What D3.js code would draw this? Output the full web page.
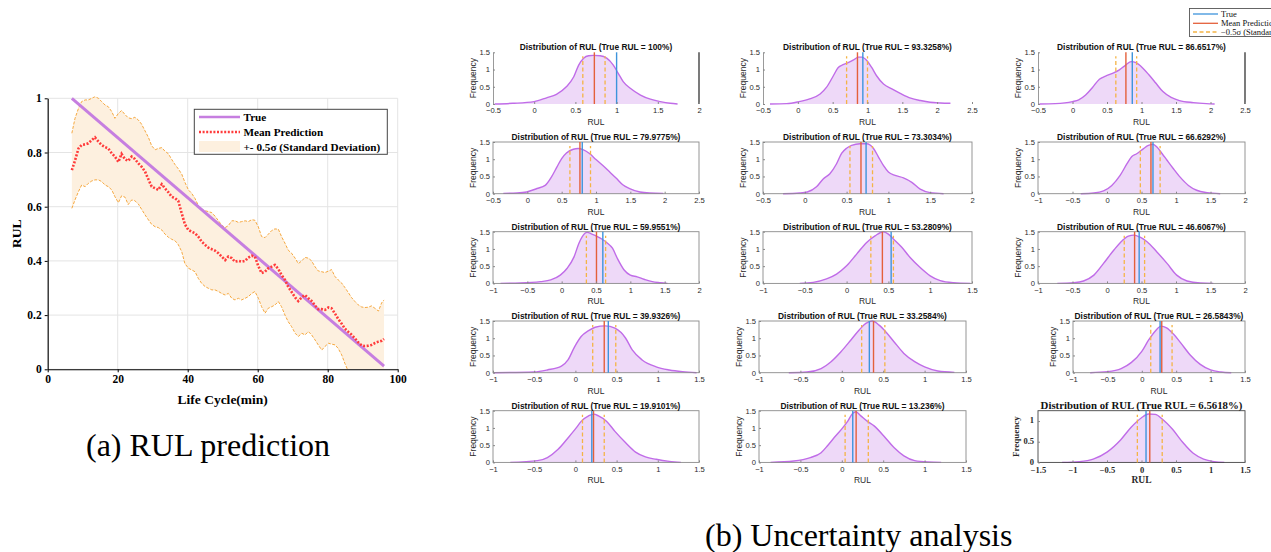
<!DOCTYPE html>
<html>
<head>
<meta charset="utf-8">
<script src="https://cdn.jsdelivr.net/npm/d3@7"></script>
<style>
  html, body { margin: 0; padding: 0; background: #fff; }
  svg { display: block; }
</style>
</head>
<body>
<svg id="fig" width="1271" height="552"></svg>
<script>
// ---------- (a) RUL prediction: data ----------
const lifeCycle = [6.9, 7.8, 8.8, 9.7, 10.7, 11.6, 12.6, 13.5, 14.5, 15.4,
  16.4, 17.3, 18.3, 19.2, 20.2, 21.1, 22.1, 23.0, 24.0, 24.9,
  25.9, 26.8, 27.8, 28.8, 29.7, 30.7, 31.6, 32.6, 33.5, 34.5,
  35.4, 36.4, 37.3, 38.3, 39.2, 40.2, 41.1, 42.1, 43.0, 44.0,
  45.0, 45.9, 46.9, 47.8, 48.8, 49.7, 50.7, 51.6, 52.6, 53.5,
  54.5, 55.4, 56.4, 57.3, 58.3, 59.2, 60.2, 61.1, 62.1, 63.0,
  64.0, 64.9, 65.9, 66.8, 67.8, 68.7, 69.7, 70.7, 71.6, 72.6,
  73.5, 74.5, 75.4, 76.4, 77.3, 78.3, 79.2, 80.2, 81.1, 82.1,
  83.0, 84.0, 84.9, 85.9, 86.8, 87.8, 88.7, 89.7, 90.6, 91.6,
  92.5, 93.5, 94.5, 95.4, 96.1];

const meanPrediction = [0.735, 0.77, 0.815, 0.828, 0.83, 0.834, 0.846, 0.856, 0.84, 0.828,
  0.82, 0.815, 0.797, 0.785, 0.765, 0.795, 0.775, 0.769, 0.785, 0.776,
  0.76, 0.748, 0.73, 0.70, 0.674, 0.668, 0.662, 0.683, 0.668, 0.653,
  0.637, 0.631, 0.622, 0.575, 0.535, 0.514, 0.508, 0.502, 0.49, 0.471,
  0.459, 0.449, 0.443, 0.438, 0.428, 0.416, 0.403, 0.416, 0.41, 0.397,
  0.4, 0.397, 0.4, 0.412, 0.419, 0.416, 0.38, 0.355, 0.36, 0.373,
  0.379, 0.385, 0.37, 0.348, 0.33, 0.305, 0.285, 0.265, 0.252, 0.266,
  0.274, 0.262, 0.252, 0.235, 0.222, 0.222, 0.219, 0.228, 0.225, 0.205,
  0.186, 0.168, 0.15, 0.138, 0.128, 0.114, 0.1, 0.088, 0.086, 0.087,
  0.09, 0.097, 0.102, 0.105, 0.112];

const upperBand = [0.871, 0.926, 0.963, 0.988, 0.994, 0.994, 1.0, 1.006, 1.0, 0.988,
  0.975, 0.969, 0.951, 0.926, 0.944, 0.955, 0.94, 0.928, 0.925, 0.93,
  0.92, 0.905, 0.88, 0.855, 0.825, 0.81, 0.815, 0.818, 0.805, 0.795,
  0.775, 0.755, 0.74, 0.72, 0.69, 0.662, 0.65, 0.63, 0.605, 0.59,
  0.585, 0.582, 0.578, 0.565, 0.548, 0.532, 0.523, 0.53, 0.548, 0.548,
  0.542, 0.545, 0.548, 0.545, 0.552, 0.55, 0.525, 0.49, 0.486, 0.498,
  0.512, 0.518, 0.517, 0.49, 0.465, 0.44, 0.428, 0.41, 0.39, 0.4,
  0.413, 0.41, 0.4, 0.378, 0.363, 0.36, 0.357, 0.362, 0.368, 0.342,
  0.33, 0.318, 0.302, 0.283, 0.265, 0.25, 0.238, 0.23, 0.228, 0.229,
  0.234, 0.225, 0.215, 0.245, 0.256];

const lowerBand = [0.594, 0.625, 0.656, 0.68, 0.674, 0.686, 0.695, 0.699, 0.699, 0.693,
  0.68, 0.674, 0.662, 0.637, 0.615, 0.64, 0.635, 0.608, 0.625, 0.622,
  0.61, 0.591, 0.57, 0.551, 0.535, 0.526, 0.523, 0.514, 0.499, 0.487,
  0.48, 0.474, 0.46, 0.434, 0.39, 0.373, 0.367, 0.36, 0.336, 0.317,
  0.305, 0.299, 0.293, 0.293, 0.287, 0.28, 0.274, 0.28, 0.262, 0.256,
  0.262, 0.256, 0.262, 0.268, 0.28, 0.287, 0.262, 0.231, 0.207, 0.225,
  0.231, 0.237, 0.25, 0.231, 0.2, 0.176, 0.157, 0.133, 0.121, 0.133,
  0.127, 0.139, 0.127, 0.108, 0.09, 0.071, 0.084, 0.096, 0.093, 0.09,
  0.077, 0.053, 0.022, -0.008, -0.025, -0.04, -0.05, -0.06, -0.07, -0.075,
  -0.08, -0.085, -0.09, -0.09, -0.1];

const trueCycle = [6.9, 96.1];
const trueRUL = [1.0, 0.012];

const cycleTicks = [0, 20, 40, 60, 80, 100];
const rulTicks = [0, 0.2, 0.4, 0.6, 0.8, 1];
const legendLabelsA = ["True", "Mean Prediction", "+- 0.5\u03c3 (Standard Deviation)"];

// ---------- (b) Uncertainty analysis: data ----------
const trueRULPercent = [100, 93.3258, 86.6517, 79.9775, 73.3034, 66.6292, 59.9551, 53.2809,
  46.6067, 39.9326, 33.2584, 26.5843, 19.9101, 13.236, 6.5618];
const meanRUL = [0.73, 0.856, 0.774, 0.766, 0.672, 0.637, 0.507, 0.428, 0.40, 0.35, 0.383, 0.29, 0.22, 0.173, 0.12];
const sigmaLow = [0.59, 0.70, 0.628, 0.62, 0.54, 0.483, 0.36, 0.29, 0.25, 0.21, 0.24, 0.13, 0.086, 0.04, -0.06];
const sigmaHigh = [0.86, 1.0, 0.93, 0.92, 0.81, 0.77, 0.64, 0.56, 0.545, 0.49, 0.52, 0.44, 0.35, 0.32, 0.30];
const rulDomains = [[-0.5, 2], [-0.5, 2.5], [-0.5, 2.5],
  [-0.5, 2.5], [-0.5, 2], [-1, 2],
  [-1, 2], [-1, 1.5], [-1, 2],
  [-1, 1.5], [-1, 1.5], [-1, 1.5],
  [-1, 1.5], [-1, 1.5], [-1.5, 1.5]];
const freqMax = [1.5, 1.5, 1.5, 1.5, 1.5, 1.5, 1.5, 1.5, 1.5, 1.5, 1.5, 1.5, 1.5, 1.5, 1.25];
const freqTicks = [0, 0.5, 1, 1.5];
const rulTickStep = 0.5;

const densityRUL = [
  [-0.48, -0.26, 0, 0.15, 0.27, 0.39, 0.48, 0.54, 0.6, 0.66, 0.72, 0.8, 0.88, 0.96, 1.02, 1.08, 1.17, 1.29, 1.41, 1.53, 1.65, 1.74],
  [-0.4, -0.16, 0, 0.17, 0.32, 0.41, 0.51, 0.58, 0.65, 0.73, 0.8, 0.87, 0.92, 0.99, 1.06, 1.13, 1.23, 1.35, 1.47, 1.62, 1.76, 1.9, 2.05, 2.19],
  [-0.48, -0.25, 0, 0.09, 0.19, 0.29, 0.39, 0.48, 0.58, 0.68, 0.77, 0.85, 0.92, 1.02, 1.11, 1.21, 1.31, 1.43, 1.55, 1.75, 1.94, 2.06],
  [-0.35, -0.15, -0.01, 0.14, 0.26, 0.35, 0.43, 0.5, 0.57, 0.67, 0.74, 0.81, 0.91, 1.0, 1.1, 1.2, 1.3, 1.39, 1.49, 1.64, 1.78, 1.98],
  [-0.26, -0.06, 0.03, 0.14, 0.22, 0.3, 0.38, 0.44, 0.5, 0.56, 0.66, 0.74, 0.82, 0.88, 0.94, 1.0, 1.08, 1.18, 1.28, 1.38, 1.5, 1.66],
  [-0.38, -0.19, -0.05, 0.07, 0.19, 0.29, 0.36, 0.43, 0.53, 0.6, 0.67, 0.72, 0.8, 0.87, 0.96, 1.06, 1.18, 1.3, 1.45, 1.64],
  [-0.89, -0.6, -0.31, -0.16, -0.02, 0.08, 0.18, 0.25, 0.3, 0.37, 0.44, 0.52, 0.59, 0.66, 0.74, 0.81, 0.91, 1.0, 1.1, 1.2, 1.32, 1.44, 1.54],
  [-0.56, -0.4, -0.24, -0.12, 0, 0.12, 0.24, 0.34, 0.44, 0.5, 0.56, 0.66, 0.76, 0.88, 1.0, 1.12, 1.28, 1.48],
  [-0.72, -0.48, -0.34, -0.19, -0.05, 0.1, 0.22, 0.31, 0.39, 0.48, 0.58, 0.72, 0.87, 1.01, 1.16, 1.35, 1.54],
  [-0.99, -0.5, -0.34, -0.17, -0.09, -0.01, 0.07, 0.16, 0.24, 0.36, 0.48, 0.61, 0.69, 0.81, 0.98, 1.14, 1.3, 1.47],
  [-0.64, -0.42, -0.25, -0.13, -0.01, 0.11, 0.21, 0.29, 0.37, 0.45, 0.53, 0.63, 0.75, 0.88, 1.0, 1.16, 1.36],
  [-0.75, -0.5, -0.3, -0.15, 0, 0.1, 0.2, 0.28, 0.36, 0.46, 0.56, 0.7, 0.85, 1.0, 1.15, 1.3],
  [-0.79, -0.46, -0.34, -0.21, -0.09, 0.01, 0.07, 0.16, 0.22, 0.28, 0.38, 0.48, 0.61, 0.73, 0.85, 0.98, 1.14, 1.28],
  [-0.86, -0.58, -0.38, -0.25, -0.17, -0.07, 0.01, 0.07, 0.13, 0.17, 0.23, 0.31, 0.39, 0.51, 0.63, 0.75, 0.88, 1.04, 1.2],
  [-1.15, -0.9, -0.7, -0.5, -0.3, -0.15, 0, 0.1, 0.2, 0.3, 0.45, 0.6, 0.75, 0.9, 1.05, 1.2]
];
const densityFreq = [
  [0, 0.02, 0.07, 0.18, 0.28, 0.5, 0.79, 1.13, 1.33, 1.4, 1.41, 1.4, 1.33, 1.13, 0.89, 0.65, 0.45, 0.26, 0.14, 0.07, 0.02, 0],
  [0, 0.01, 0.06, 0.15, 0.29, 0.48, 0.82, 1.06, 1.14, 1.21, 1.28, 1.36, 1.36, 1.26, 1.06, 0.82, 0.58, 0.44, 0.31, 0.17, 0.1, 0.05, 0.03, 0.02],
  [0, 0.01, 0.07, 0.12, 0.26, 0.48, 0.72, 0.81, 0.89, 0.99, 1.13, 1.23, 1.2, 1.04, 0.84, 0.6, 0.36, 0.19, 0.1, 0.04, 0.01, 0],
  [0.01, 0.02, 0.05, 0.15, 0.24, 0.48, 0.77, 1.02, 1.18, 1.29, 1.31, 1.28, 1.16, 0.99, 0.82, 0.63, 0.44, 0.26, 0.15, 0.05, 0.02, 0.01],
  [0, 0.02, 0.05, 0.2, 0.43, 0.58, 0.87, 1.17, 1.32, 1.4, 1.45, 1.45, 1.32, 1.07, 0.82, 0.63, 0.53, 0.46, 0.33, 0.13, 0.03, 0],
  [0, 0.02, 0.08, 0.24, 0.53, 0.87, 1.08, 1.16, 1.31, 1.4, 1.43, 1.36, 1.16, 0.97, 0.73, 0.48, 0.24, 0.1, 0.03, 0],
  [0, 0.01, 0.05, 0.1, 0.24, 0.44, 0.77, 1.16, 1.36, 1.48, 1.43, 1.36, 1.28, 1.18, 1.02, 0.73, 0.39, 0.24, 0.19, 0.12, 0.05, 0.02, 0],
  [0, 0.03, 0.13, 0.27, 0.51, 0.85, 1.19, 1.38, 1.5, 1.43, 1.29, 1.05, 0.75, 0.46, 0.22, 0.08, 0.02, 0],
  [0, 0.02, 0.07, 0.24, 0.58, 0.97, 1.24, 1.37, 1.4, 1.34, 1.21, 0.92, 0.58, 0.24, 0.07, 0.01, 0],
  [0, 0.02, 0.08, 0.19, 0.37, 0.75, 1.05, 1.22, 1.32, 1.36, 1.29, 1.0, 0.66, 0.37, 0.17, 0.08, 0.03, 0],
  [0, 0.02, 0.12, 0.32, 0.61, 0.95, 1.24, 1.43, 1.5, 1.38, 1.19, 0.9, 0.56, 0.32, 0.17, 0.05, 0.01],
  [0, 0.03, 0.12, 0.3, 0.62, 0.95, 1.22, 1.35, 1.3, 1.12, 0.88, 0.52, 0.24, 0.08, 0.02, 0],
  [0, 0.05, 0.14, 0.38, 0.71, 1.0, 1.19, 1.35, 1.4, 1.35, 1.19, 0.9, 0.57, 0.3, 0.16, 0.09, 0.03, 0],
  [0, 0.04, 0.14, 0.28, 0.49, 0.78, 1.0, 1.19, 1.42, 1.47, 1.35, 1.19, 1.06, 0.76, 0.43, 0.19, 0.05, 0.01, 0],
  [0, 0.02, 0.08, 0.25, 0.55, 0.85, 1.08, 1.17, 1.16, 1.05, 0.8, 0.48, 0.22, 0.08, 0.02, 0]
];
const legendLabelsB = ["True", "Mean Prediction", "\u22120.5\u03c3 (Standard Deviation)"];

// ---------- drawing ----------
const SERIF = '"Liberation Serif","Times New Roman",serif';
const SANS = '"Liberation Sans",Arial,Helvetica,sans-serif';
const svg = d3.select("#fig");
const defs = svg.append("defs");

// ===== Panel (a) =====
const A = { left: 47.7, right: 397.7, top: 98.3, bottom: 369.3 };
const xA = d3.scaleLinear().domain([0, 100]).range([A.left, A.right]);
const yA = d3.scaleLinear().domain([0, 1]).range([A.bottom, A.top]);
const gA = svg.append("g");

defs.append("clipPath").attr("id", "clipA").append("rect")
  .attr("x", A.left).attr("y", A.top - 2)
  .attr("width", A.right - A.left).attr("height", A.bottom - A.top + 2);

// grid
gA.append("g").selectAll("line").data(cycleTicks).join("line")
  .attr("x1", d => xA(d)).attr("x2", d => xA(d))
  .attr("y1", A.top).attr("y2", A.bottom)
  .attr("stroke", "#e4e4e4").attr("stroke-width", 1);
gA.append("g").selectAll("line").data(rulTicks).join("line")
  .attr("x1", A.left).attr("x2", A.right)
  .attr("y1", d => yA(d)).attr("y2", d => yA(d))
  .attr("stroke", "#e4e4e4").attr("stroke-width", 1);

const plotA = gA.append("g").attr("clip-path", "url(#clipA)");
const idx = d3.range(lifeCycle.length);

plotA.append("path").datum(idx)
  .attr("d", d3.area().x(i => xA(lifeCycle[i])).y0(i => yA(lowerBand[i])).y1(i => yA(upperBand[i])))
  .attr("fill", "#fdf0df");
[upperBand, lowerBand].forEach(band => {
  plotA.append("path").datum(idx)
    .attr("d", d3.line().x(i => xA(lifeCycle[i])).y(i => yA(band[i])))
    .attr("fill", "none").attr("stroke", "#f5a840").attr("stroke-width", 1)
    .attr("stroke-dasharray", "3,1.5");
});
plotA.append("path").datum(d3.range(trueCycle.length))
  .attr("d", d3.line().x(i => xA(trueCycle[i])).y(i => yA(trueRUL[i])))
  .attr("fill", "none").attr("stroke", "#c67ee0").attr("stroke-width", 3);
plotA.append("path").datum(idx)
  .attr("d", d3.line().x(i => xA(lifeCycle[i])).y(i => yA(meanPrediction[i])))
  .attr("fill", "none").attr("stroke", "#ff3b3b").attr("stroke-width", 2.6)
  .attr("stroke-dasharray", "2,1.6");

// axes
const axA = gA.append("g").attr("transform", `translate(0,${A.bottom})`)
  .call(d3.axisBottom(xA).tickValues(cycleTicks).tickSize(3).tickSizeOuter(0).tickPadding(3).tickFormat(d => String(d)));
const ayA = gA.append("g").attr("transform", `translate(${A.left},0)`)
  .call(d3.axisLeft(yA).tickValues(rulTicks).tickSize(3).tickSizeOuter(0).tickPadding(3).tickFormat(d => String(d)));
[axA, ayA].forEach(ax => {
  ax.select(".domain").attr("stroke", "#000").attr("stroke-width", 1.1);
  ax.selectAll(".tick line").attr("stroke", "#000");
  ax.selectAll("text").attr("font-family", SERIF).attr("font-weight", "bold")
    .attr("font-size", 11.5).attr("fill", "#000");
});

gA.append("text").attr("transform", `translate(16,${(A.top + A.bottom) / 2}) rotate(-90)`)
  .attr("text-anchor", "middle").attr("dominant-baseline", "central")
  .attr("font-family", SERIF).attr("font-weight", "bold").attr("font-size", 13.5)
  .text("RUL");
gA.append("text").attr("x", (A.left + A.right) / 2).attr("y", 404)
  .attr("text-anchor", "middle")
  .attr("font-family", SERIF).attr("font-weight", "bold").attr("font-size", 13.5)
  .text("Life Cycle(min)");

// legend (a)
const legA = gA.append("g");
legA.append("rect").attr("x", 194.3).attr("y", 109.3).attr("width", 193).attr("height", 45)
  .attr("fill", "#fff").attr("stroke", "#444").attr("stroke-width", 1);
const legRowsA = [117, 132, 146.5];
legA.append("line").attr("x1", 199).attr("x2", 240).attr("y1", legRowsA[0]).attr("y2", legRowsA[0])
  .attr("stroke", "#c67ee0").attr("stroke-width", 2.6);
legA.append("line").attr("x1", 199).attr("x2", 240).attr("y1", legRowsA[1]).attr("y2", legRowsA[1])
  .attr("stroke", "#ff3b3b").attr("stroke-width", 2.4).attr("stroke-dasharray", "2,1.6");
legA.append("rect").attr("x", 199).attr("y", legRowsA[2] - 5.5).attr("width", 41).attr("height", 11)
  .attr("fill", "#fdf0df");
legA.selectAll("text.lab").data(legendLabelsA).join("text").attr("class", "lab")
  .attr("x", 243.5).attr("y", (d, i) => legRowsA[i])
  .attr("dominant-baseline", "central")
  .attr("font-family", SERIF).attr("font-weight", "bold").attr("font-size", 11.2)
  .text(d => d);

svg.append("text").attr("x", 86).attr("y", 456)
  .attr("font-family", SERIF).attr("font-size", 32).attr("fill", "#000")
  .text("(a) RUL prediction");

// ===== Panel (b) =====
const colSpan = [[493, 699], [763, 972], [1038, 1245]];
const rowTop = [52.3, 142, 231.7, 321, 410.7];
const panelH = 51.7;

function panelBox(i) {
  const r = Math.floor(i / 3), c = i % 3;
  let [L, R] = colSpan[c];
  if (i === 10 || i === 13) { L = 759; R = 966; }
  if (i === 11) { L = 1073; }
  const T = rowTop[r];
  return { r, c, L, R, T, B: T + panelH };
}

trueRULPercent.forEach((pct, i) => {
  const { r, c, L, R, T, B } = panelBox(i);
  const serifStyle = i === 14;
  const font = serifStyle ? SERIF : SANS;
  const weight = serifStyle ? "bold" : "normal";
  const g = svg.append("g");
  const sx = d3.scaleLinear().domain(rulDomains[i]).range([L, R]);
  const sy = d3.scaleLinear().domain([0, freqMax[i]]).range([B, T]);
  const pts = densityRUL[i].map((v, j) => [v, densityFreq[i][j]]);

  g.append("path").datum(pts)
    .attr("d", d3.area().x(d => sx(d[0])).y0(B).y1(d => sy(d[1])).curve(d3.curveMonotoneX))
    .attr("fill", "#eed9f8");
  g.append("path").datum(pts)
    .attr("d", d3.line().x(d => sx(d[0])).y(d => sy(d[1])).curve(d3.curveMonotoneX))
    .attr("fill", "none").attr("stroke", "#c06ce8").attr("stroke-width", 1.4);

  // frame
  if (r > 0) {
    g.append("rect").attr("x", L).attr("y", T).attr("width", R - L).attr("height", B - T)
      .attr("fill", "none").attr("stroke", serifStyle ? "#444" : "#8a8a8a").attr("stroke-width", 0.9);
  } else if (c !== 1) {
    g.append("line").attr("x1", R).attr("x2", R).attr("y1", T).attr("y2", B)
      .attr("stroke", "#222").attr("stroke-width", 1.2);
  }

  // sigma, mean and true markers
  [sigmaLow[i], sigmaHigh[i]].forEach(v => {
    g.append("line").attr("x1", sx(v)).attr("x2", sx(v)).attr("y1", B).attr("y2", sy(freqMax[i]) + 4)
      .attr("stroke", "#f4b446").attr("stroke-width", 1.3).attr("stroke-dasharray", "4,2.5");
  });
  g.append("line").attr("x1", sx(meanRUL[i])).attr("x2", sx(meanRUL[i])).attr("y1", B).attr("y2", T)
    .attr("stroke", "#e4603b").attr("stroke-width", 1.4);
  const trueV = pct / 100;
  g.append("line").attr("x1", sx(trueV)).attr("x2", sx(trueV)).attr("y1", B).attr("y2", T)
    .attr("stroke", "#3d94dc").attr("stroke-width", 1.4);

  // axes
  const [lo, hi] = rulDomains[i];
  const xt = d3.range(lo, hi + 1e-9, rulTickStep);
  const yt = freqTicks.filter(v => v <= freqMax[i] + 1e-9);
  const fmt = d3.format("~g");
  const ax = g.append("g").attr("transform", `translate(0,${B})`)
    .call(d3.axisBottom(sx).tickValues(xt).tickSize(-2).tickSizeOuter(0).tickPadding(serifStyle ? 5 : 4).tickFormat(fmt));
  const ay = g.append("g").attr("transform", `translate(${L},0)`)
    .call(d3.axisLeft(sy).tickValues(yt).tickSize(-2).tickSizeOuter(0).tickPadding(serifStyle ? 4 : 3).tickFormat(fmt));
  ax.select(".domain").attr("stroke", "none");
  ay.select(".domain").attr("stroke", r === 0 ? "#9a9a9a" : "none");
  [ax, ay].forEach(a => {
    a.selectAll(".tick line").attr("stroke", "#888");
    a.selectAll("text").attr("font-family", font).attr("font-weight", weight)
      .attr("font-size", serifStyle ? 8.5 : 7.6).attr("fill", "#2a2a2a");
  });
  if (serifStyle) ay.selectAll("text").attr("dy", "0.2em");

  g.append("text").attr("x", (L + R) / 2).attr("y", T - 2)
    .attr("text-anchor", "middle").attr("font-family", font).attr("font-weight", "bold")
    .attr("font-size", serifStyle ? 10.8 : 8.4).attr("fill", "#111")
    .text(`Distribution of RUL (True RUL = ${pct}%)`);
  g.append("text").attr("transform", `translate(${L - (serifStyle ? 22 : 20.5)},${(T + B) / 2}) rotate(-90)`)
    .attr("text-anchor", "middle").attr("dominant-baseline", "central")
    .attr("font-family", font).attr("font-weight", weight)
    .attr("font-size", serifStyle ? 9 : 8.5).attr("fill", "#2a2a2a")
    .text("Frequency");
  g.append("text").attr("x", (L + R) / 2).attr("y", B + 18)
    .attr("text-anchor", "middle").attr("dominant-baseline", "central")
    .attr("font-family", font).attr("font-weight", weight)
    .attr("font-size", serifStyle ? 9.5 : 8.5).attr("fill", "#2a2a2a")
    .text("RUL");
});

// legend (b), running off the right-hand edge of the figure
defs.append("clipPath").attr("id", "clipLegB").append("rect")
  .attr("x", 1180).attr("y", 0).attr("width", 91).attr("height", 45);
const legB = svg.append("g").attr("clip-path", "url(#clipLegB)");
legB.append("rect").attr("x", 1189.5).attr("y", 8.5).attr("width", 100).attr("height", 28)
  .attr("fill", "#fff").attr("stroke", "#555").attr("stroke-width", 0.9);
const legRowsB = [14, 23.3, 32];
legB.append("line").attr("x1", 1193).attr("x2", 1218).attr("y1", legRowsB[0]).attr("y2", legRowsB[0])
  .attr("stroke", "#3d94dc").attr("stroke-width", 1.3);
legB.append("line").attr("x1", 1193).attr("x2", 1218).attr("y1", legRowsB[1]).attr("y2", legRowsB[1])
  .attr("stroke", "#e4603b").attr("stroke-width", 1.3);
legB.append("line").attr("x1", 1193).attr("x2", 1218).attr("y1", legRowsB[2]).attr("y2", legRowsB[2])
  .attr("stroke", "#f4b446").attr("stroke-width", 1.3).attr("stroke-dasharray", "4,2.5");
legB.selectAll("text").data(legendLabelsB).join("text")
  .attr("x", 1221).attr("y", (d, i) => legRowsB[i])
  .attr("dominant-baseline", "central")
  .attr("font-family", SERIF).attr("font-size", 8.5).attr("fill", "#111")
  .text(d => d);

svg.append("text").attr("x", 705).attr("y", 546)
  .attr("font-family", SERIF).attr("font-size", 32).attr("fill", "#000")
  .text("(b) Uncertainty analysis");
</script>
</body>
</html>
